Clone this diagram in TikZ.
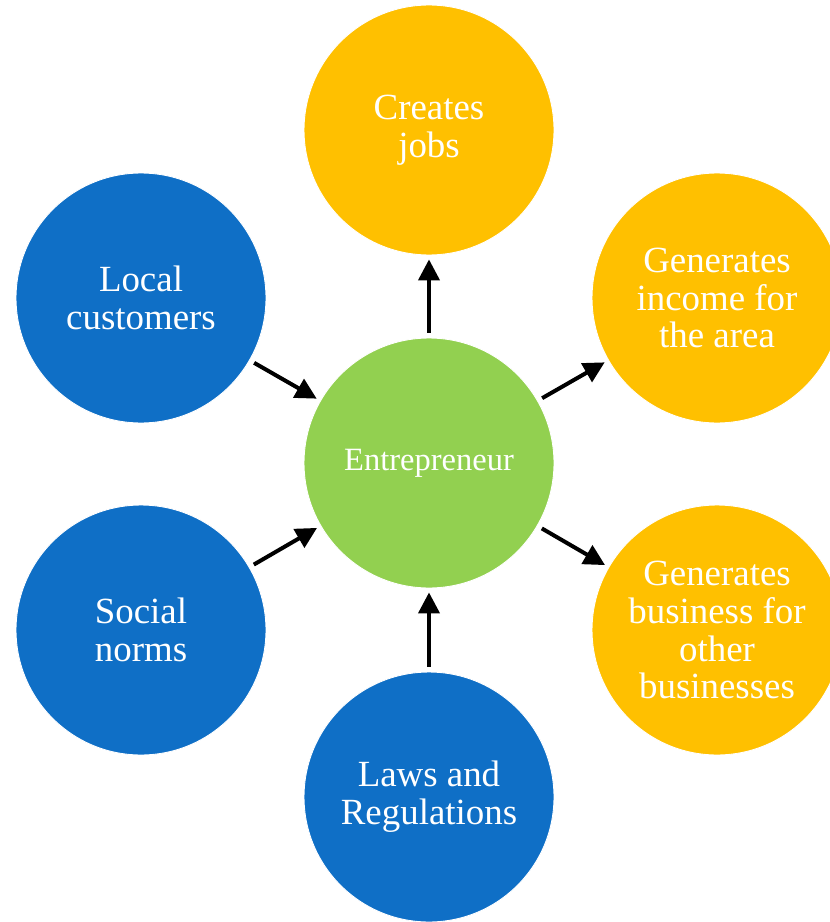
\documentclass[tikz,border=0pt]{standalone}
\usepackage{fontspec}
\setmainfont{Liberation Serif}
\usetikzlibrary{arrows.meta}
\definecolor{bubblue}{HTML}{0F6FC6}
\definecolor{bubyellow}{HTML}{FFC000}
\definecolor{bubgreen}{HTML}{92D050}
\tikzset{>={Triangle[length=0.42cm,width=0.42cm]},
  bubble/.style={circle,minimum size=5cm,inner sep=0pt,draw=white,line width=0.5pt,
    text=white,align=center,font=\fontsize{21}{21.6}\selectfont},
  link/.style={->,line width=0.08cm,shorten <=0.1cm,shorten >=0.08cm}}

\begin{document}
\begin{tikzpicture}[x=0.02cm,y=-0.02cm]
\useasboundingbox[fill=white] (0,0) rectangle (830,922);
\node[bubble,fill=bubgreen,font=\fontsize{18.5}{20}\selectfont] (E) at (429,463) {Entrepreneur};
\node[bubble,fill=bubyellow] (J) at (429,130) {Creates\\jobs};
\node[bubble,fill=bubyellow] (I) at (717,298) {Generates\\income for\\the area};
\node[bubble,fill=bubyellow] (B) at (717,630) {Generates\\business for\\other\\businesses};
\node[bubble,fill=bubblue] (C) at (141,298) {Local\\customers};
\node[bubble,fill=bubblue] (N) at (141,630) {Social\\norms};
\node[bubble,fill=bubblue] (L) at (429,797) {Laws and\\Regulations};
\path[link] (C) edge (E);
\path[link] (N) edge (E);
\path[link] (L) edge (E);
\path[link] (E) edge (J);
\path[link] (E) edge (I);
\path[link] (E) edge (B);
\end{tikzpicture}
\end{document}
